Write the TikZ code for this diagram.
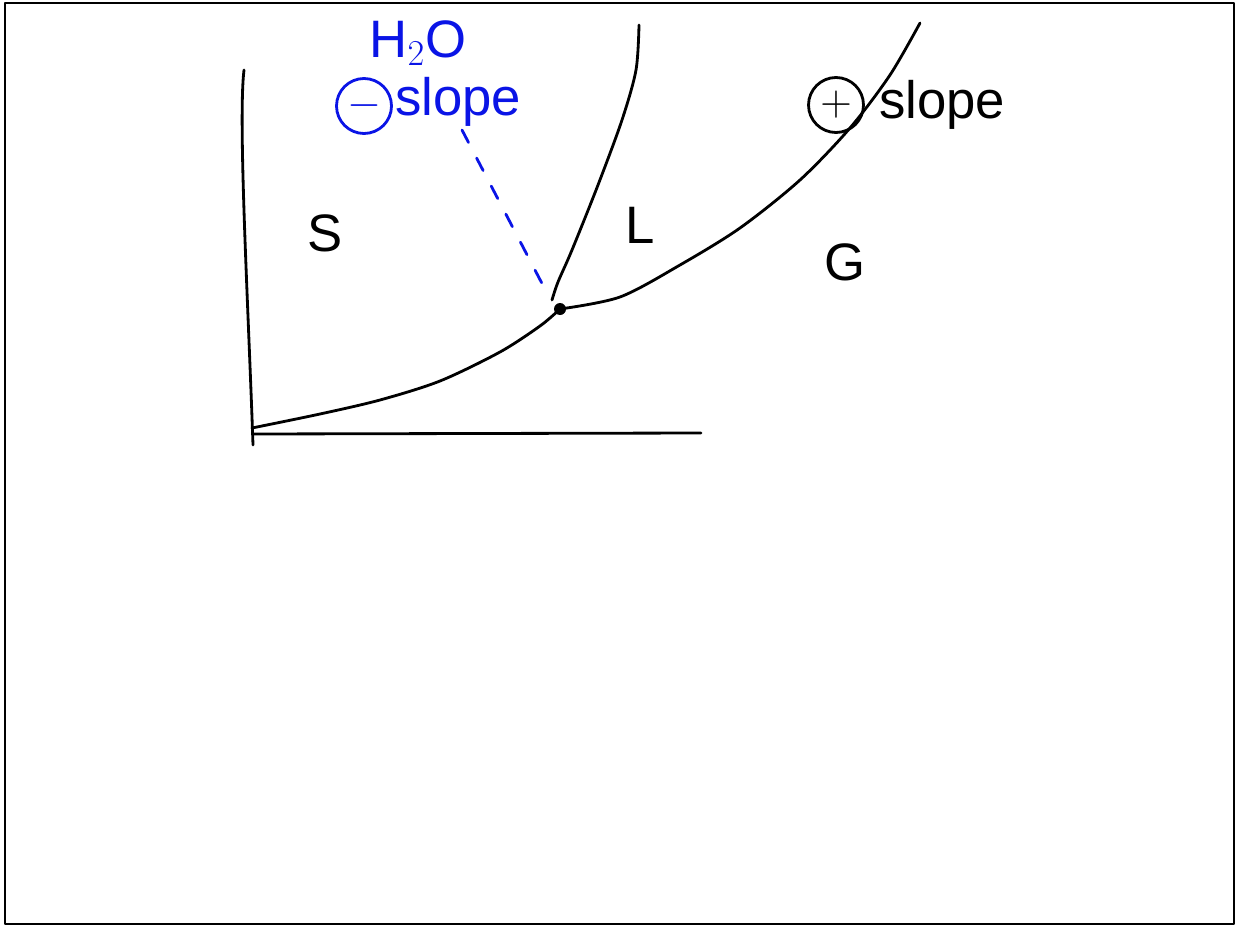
\documentclass[tikz,border=0pt]{standalone}
\usepackage{fontspec}
\setmainfont{Liberation Sans}
\usetikzlibrary{calc}
\definecolor{penblue}{HTML}{0A14E6}

\begin{document}
\begin{tikzpicture}[x=0.02cm,y=-0.02cm,line cap=round,line join=round,
  pen/.style={line width=1.6pt},
  lbl/.style={font=\fontsize{30}{36}\selectfont,inner sep=0pt},
  signc/.style={circle,draw,line width=1.6pt,minimum size=1.1cm,inner sep=0pt,font=\fontsize{30}{36}\selectfont}]
  \useasboundingbox (0,0) rectangle (1237,926);
  \draw[line width=1.2pt] (5,3) rectangle (1234,924);
  % axes
  \draw[pen] (244,70) .. controls (238,120) and (248,300) .. (253,445);
  \draw[pen] (253,434) -- (701,433);
  % triple point
  \coordinate (tp) at (560,309);
  \fill (tp) circle (6);
  % solid-gas
  \draw[pen] plot[smooth] coordinates {(252,428) (320,414) (380,400) (440,381) (500,352) (540,326) (tp)};
  % liquid-gas
  \draw[pen] plot[smooth] coordinates {(tp) (620,297) (680,265) (740,228) (800,180) (850,128) (890,75) (920,23)};
  % solid-liquid
  \draw[pen] plot[smooth] coordinates {(552,300) (558,282) (572,250) (598,185) (622,120) (636,70) (639,25)};
  % phases
  \node[lbl] (s) at (325,233) {S};
  \node[lbl] (l) at (640,225) {L};
  \node[lbl] (g) at (845,262) {G};
  \node[signc] (posc) at (836,105) {$+$};
  \node[lbl,anchor=west] (pos) at ($(posc.east)+(14,0)$) {slope};
  \node[lbl,penblue] (h2o) at (418,43) {H$_2$O};
  \node[signc,penblue] (negc) at (364,106) {$-$};
  \node[lbl,penblue,anchor=west] (neg) at ($(negc.east)+(2,-4)$) {slope};
  \draw[penblue,pen,dash pattern=on 8pt off 10pt] (462,130) -- (548,295);
\end{tikzpicture}
\end{document}
